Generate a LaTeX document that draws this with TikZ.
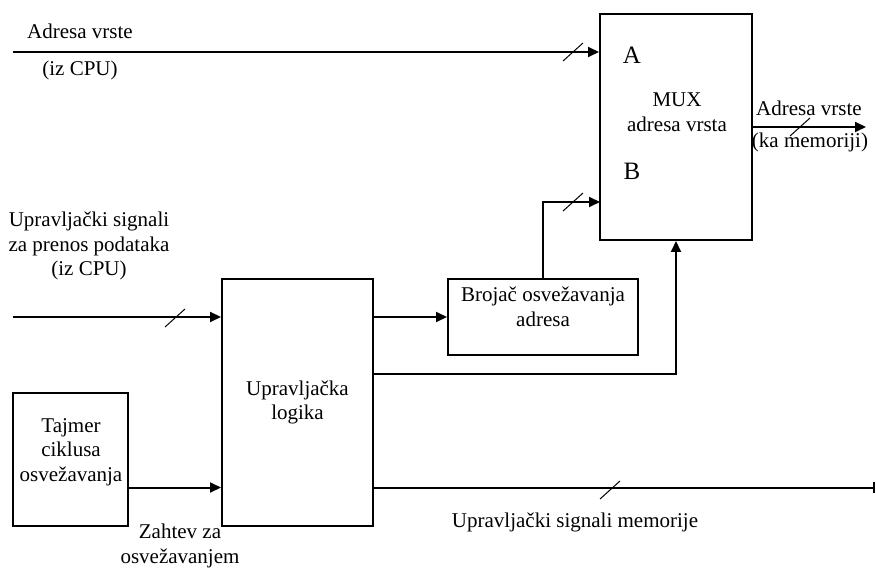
\documentclass[tikz,border=0pt]{standalone}
\usepackage{fontspec}
\setmainfont{Liberation Serif}
\usetikzlibrary{arrows.meta,calc}
\begin{document}
\begin{tikzpicture}[x=1pt,y=-1pt,
  box/.style={draw,line width=2pt,rectangle,inner sep=0pt,align=center,font=\fontsize{21}{24.5}\selectfont},
  txt/.style={align=center,inner sep=0pt,font=\fontsize{21}{24.5}\selectfont},
  big/.style={inner sep=0pt,font=\fontsize{25}{28}\selectfont},
  wire/.style={line width=2pt},
  arr/.style={wire,-{Triangle[length=11pt,width=10pt]}},
  barend/.style={wire,-{Bar[width=11pt,line width=2.5pt]}},
  slashln/.style={line width=1pt}
]
\useasboundingbox (0,0) rectangle (876,569);
\newcommand\busslash[1]{\draw[slashln] ($(#1)+(-10,9)$) -- ($(#1)+(10,-9)$);}

% boxes
\node[box,minimum width=152pt,minimum height=226pt] (mux) at (676,127) {};
\node[box,minimum width=190pt,minimum height=76pt] (cnt) at (543,317) {};
\node[box,minimum width=151pt,minimum height=247pt] (logic) at (297.5,402.5) {Upravljačka\\logika};
\node[box,minimum width=115pt,minimum height=133pt] (tim) at (70.5,459.5) {};

% box texts
\node[txt] (muxt) at (677,112) {MUX\\adresa vrsta};
\node[big] (la) at (632,55) {A};
\node[big] (lb) at (632,171) {B};
\node[txt] (cntt) at (543,307) {Brojač osvežavanja\\adresa};
\node[txt] (timt) at (71,452) {Tajmer\\ciklusa\\osvežavanja};

% free labels
\node[txt] (l1) at (80,31) {Adresa vrste};
\node[txt] (l2) at (80,70) {(iz CPU)};
\node[txt] (l3) at (809,108) {Adresa vrste};
\node[txt] (l4) at (810,142) {(ka memoriji)};
\node[txt] (l5) at (89,246) {Upravljački signali\\za prenos podataka\\(iz CPU)};
\node[txt] (l6) at (180,546) {Zahtev za\\osvežavanjem};
\node[txt] (l7) at (575,522) {Upravljački signali memorije};

% coordinates
\coordinate (inA) at (13,52);
\coordinate (inC) at (13,317);
\coordinate (outA) at (866,127);
\coordinate (bY) at (600,202);
\coordinate (fbY) at (373,374);
\coordinate (tY) at (128,487.5);
\coordinate (memEnd) at (875,487.5);

% connectors
\draw[arr] (inA) -- (inA -| mux.west);
\draw[arr] (mux.east |- outA) -- (outA);
\draw[arr] (cnt.north) |- (bY);
\draw[arr] (inC) -- (inC -| logic.west);
\draw[arr] (logic.east |- cnt.west) -- (cnt.west);
\draw[arr] (fbY) -| (mux.south);
\draw[arr] (tY) -- (tY -| logic.west);
\draw[barend] (logic.east |- memEnd) -- (memEnd);

% bus slashes
\coordinate (s1) at (573,52);
\coordinate (s2) at (573,202);
\coordinate (s3) at (800,127);
\coordinate (s4) at (175,318);
\coordinate (s5) at (610,490);
\busslash{s1}
\busslash{s2}
\busslash{s3}
\busslash{s4}
\busslash{s5}
\end{tikzpicture}
\end{document}
